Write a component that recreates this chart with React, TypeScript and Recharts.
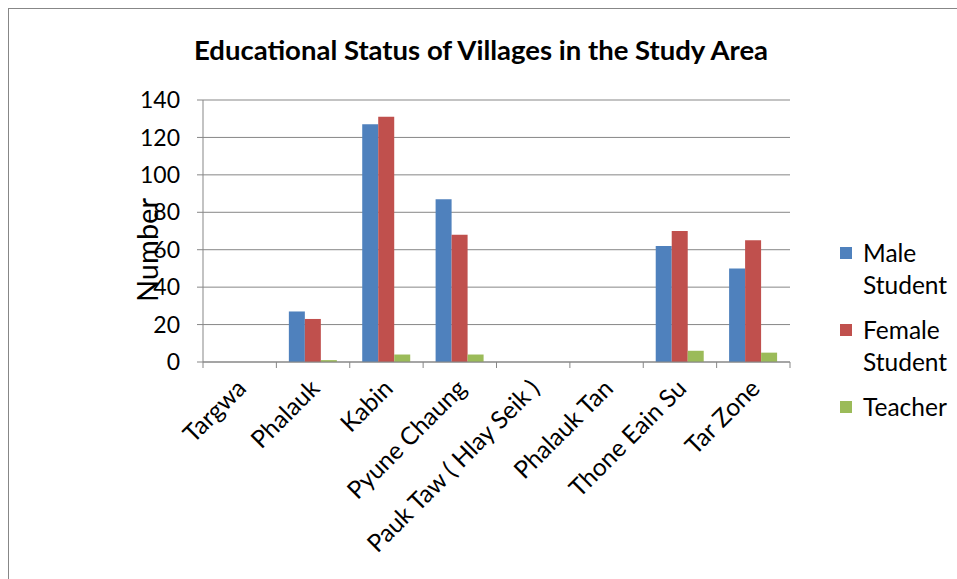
import React from "react";
import { BarChart, Bar, XAxis, YAxis, CartesianGrid, Label } from "recharts";

const villages = [
  "Targwa",
  "Phalauk",
  "Kabin",
  "Pyune Chaung",
  "Pauk Taw ( Hlay Seik )",
  "Phalauk Tan",
  "Thone Eain Su",
  "Tar Zone",
];
const maleStudents = [0, 27, 127, 87, 0, 0, 62, 50];
const femaleStudents = [0, 23, 131, 68, 0, 0, 70, 65];
const teachers = [0, 1, 4, 4, 0, 0, 6, 5];
const yTicks = [0, 20, 40, 60, 80, 100, 120, 140];

const seriesNames = ["Male Student", "Female Student", "Teacher"];
const seriesColors = ["#4F81BD", "#C0504D", "#9BBB59"];

const data = villages.map((name, i) => ({
  name,
  male: maleStudents[i],
  female: femaleStudents[i],
  teacher: teachers[i],
}));

const FONT = "Lato, 'Open Sans', sans-serif";
const GRID = "#878787";

// The chart frame is open on the right and bottom: it runs past the window edge.
const CHART_W = 980;
const CHART_H = 600;
const X_AXIS_H = 30;
const PLOT_RIGHT = 781;
const PLOT_BOTTOM = 353;
const MARGIN = {
  top: 91,
  right: CHART_W - PLOT_RIGHT,
  bottom: CHART_H - PLOT_BOTTOM - X_AXIS_H,
  left: 0,
};
const Y_AXIS_W = 194;
const PLOT_W = PLOT_RIGHT - Y_AXIS_W;
const BAND = PLOT_W / villages.length;

function VillageTick(props: any) {
  const { x, y, payload, index } = props;
  const lx = x + 8;
  const ly = y + 28;
  return (
    <g>
      <line x1={x - BAND / 2} x2={x - BAND / 2} y1={y} y2={y + 6} stroke={GRID} strokeWidth={1} />
      {index === villages.length - 1 && (
        <line x1={x + BAND / 2} x2={x + BAND / 2} y1={y} y2={y + 6} stroke={GRID} strokeWidth={1} />
      )}
      <text
        x={lx}
        y={ly}
        transform={`rotate(-45 ${lx} ${ly})`}
        textAnchor="end"
        fontSize={24.5}
        fontFamily={FONT}
        fill="#000"
      >
        {payload.value}
      </text>
    </g>
  );
}

function LegendBox() {
  return (
    <div
      style={{
        position: "absolute",
        left: 831,
        top: 228,
        fontFamily: FONT,
        fontSize: 24.5,
        color: "#000",
      }}
    >
      {seriesNames.map((n, i) => (
        <div key={n} style={{ display: "flex", alignItems: "flex-start", marginBottom: 13 }}>
          <div
            style={{
              width: 12,
              height: 12,
              background: seriesColors[i],
              marginTop: 10,
              marginRight: 11,
              flex: "none",
            }}
          />
          <div style={{ lineHeight: "32px", width: 95 }}>{n}</div>
        </div>
      ))}
    </div>
  );
}

export default function App() {
  return (
    <div
      style={{
        position: "fixed",
        left: 8,
        top: 8,
        width: CHART_W + 1,
        height: CHART_H + 1,
        borderLeft: `1px solid ${GRID}`,
        borderTop: `1px solid ${GRID}`,
        boxSizing: "border-box",
        background: "#fff",
      }}
    >
      <div
        style={{
          position: "absolute",
          left: 0,
          width: 944,
          top: 24,
          textAlign: "center",
          fontFamily: FONT,
          fontWeight: 700,
          fontSize: 27.5,
          color: "#000",
        }}
      >
        Educational Status of Villages in the Study Area
      </div>
      <BarChart
        width={CHART_W}
        height={CHART_H}
        data={data}
        margin={MARGIN}
        barCategoryGap="17%"
        barGap={0}
        accessibilityLayer={false}
        style={{ outline: "none" }}
      >
        <CartesianGrid vertical={false} stroke={GRID} strokeWidth={1} />
        <XAxis
          dataKey="name"
          height={X_AXIS_H}
          interval={0}
          tickLine={false}
          tickSize={0}
          tickMargin={0}
          axisLine={{ stroke: GRID }}
          tick={<VillageTick />}
        />
        <YAxis
          width={Y_AXIS_W}
          domain={[0, 140]}
          ticks={yTicks}
          interval={0}
          tickSize={6}
          tickMargin={17}
          tickLine={{ stroke: GRID }}
          axisLine={{ stroke: GRID }}
          tick={{ fontSize: 23, fontFamily: FONT, fill: "#000" }}
        >
          <Label
            content={(p: any) => {
              const vb = p.viewBox || { x: 0, y: 0, width: 0, height: 0 };
              const cx = vb.x + 137;
              const cy = vb.y + vb.height / 2 + 19;
              return (
                <text
                  x={cx}
                  y={cy}
                  transform={`rotate(-90 ${cx} ${cy})`}
                  textAnchor="middle"
                  dominantBaseline="central"
                  fontSize={29}
                  fontFamily={FONT}
                  fill="#000"
                >
                  Number
                </text>
              );
            }}
          />
        </YAxis>
        <Bar dataKey="male" name={seriesNames[0]} fill={seriesColors[0]} isAnimationActive={false} />
        <Bar dataKey="female" name={seriesNames[1]} fill={seriesColors[1]} isAnimationActive={false} />
        <Bar dataKey="teacher" name={seriesNames[2]} fill={seriesColors[2]} isAnimationActive={false} />
      </BarChart>
      <LegendBox />
    </div>
  );
}
